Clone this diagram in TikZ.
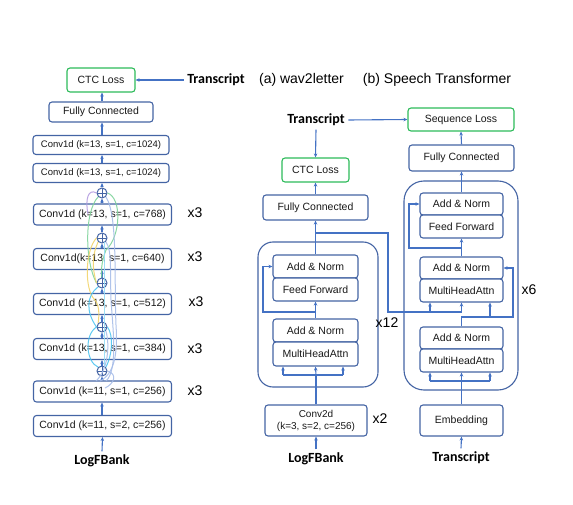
\documentclass[tikz,border=0pt]{standalone}
\usepackage{fontspec}
\setmainfont{Liberation Sans}
\newfontfamily\lblfont{Carlito}
\usetikzlibrary{arrows.meta}
\definecolor{boxblue}{HTML}{4464A4}
\definecolor{arrblue}{HTML}{4472C4}
\definecolor{lossgreen}{HTML}{2DBB5A}
\definecolor{rpurple}{HTML}{B49CE0}
\definecolor{rgreen}{HTML}{7ED39A}
\definecolor{ryellow}{HTML}{F2D46A}
\definecolor{rcyan}{HTML}{4CC4F0}
\definecolor{rlblue}{HTML}{A6BCE8}
\begin{document}
\begin{tikzpicture}[x=1pt,y=-1pt,
  blk/.style={draw=boxblue,line width=1.1pt,rounded corners=3pt,inner sep=0pt,fill=white,font=\fontsize{10.5}{12}\selectfont,text=black!90},
  lossbox/.style={blk,draw=lossgreen},
  bigblk/.style={draw=boxblue,line width=1.1pt,inner sep=0pt},
  arr/.style={draw=arrblue,line width=1.1pt,-{Stealth[length=4pt,width=3.5pt]}},
  ln/.style={draw=arrblue,line width=1.1pt},
  boldlbl/.style={font=\lblfont\bfseries\fontsize{14}{16}\selectfont},
  rep/.style={font=\fontsize{14}{16}\selectfont},
  res/.style={line width=1pt,opacity=0.9},
  plusnode/.style={circle,draw=boxblue,line width=1pt,minimum size=10pt,inner sep=0pt,fill=white,
    path picture={\draw[boxblue,line width=0.9pt] (path picture bounding box.north) -- (path picture bounding box.south) (path picture bounding box.west) -- (path picture bounding box.east);}}
]
\useasboundingbox (0,0) rectangle (573,505);

% ---------------- (a) wav2letter ----------------
\node[lossbox,minimum width=68pt,minimum height=24pt] (ctcL) at (101,80) {CTC Loss};
\node[boldlbl] (trL) at (216,80) {Transcript};
\node[blk,minimum width=104pt,minimum height=20pt] (fcL) at (101,112) {Fully Connected};
\node[blk,minimum width=136pt,minimum height=19pt,font=\fontsize{9.5}{11}\selectfont] (c1) at (101,145) {Conv1d (k=13, s=1, c=1024)};
\node[blk,minimum width=136pt,minimum height=19pt,font=\fontsize{9.5}{11}\selectfont] (c2) at (101,173) {Conv1d (k=13, s=1, c=1024)};
\node[plusnode] (p1) at (102,193) {};
\node[blk,minimum width=138pt,minimum height=21pt] (r768) at (102.5,214.5) {Conv1d (k=13, s=1, c=768)};
\node[plusnode] (p2) at (102,238) {};
\node[blk,minimum width=138pt,minimum height=21pt] (r640) at (102.5,259) {Conv1d(k=13, s=1, c=640)};
\node[plusnode] (p3) at (102,283) {};
\node[blk,minimum width=138pt,minimum height=21pt] (r512) at (102.5,304) {Conv1d (k=13, s=1, c=512)};
\node[plusnode] (p4) at (102,327) {};
\node[blk,minimum width=138pt,minimum height=21pt] (r384) at (102.5,349) {Conv1d (k=13, s=1, c=384)};
\node[plusnode] (p5) at (102,371) {};
\node[blk,minimum width=138pt,minimum height=21pt] (r256) at (102.5,391.5) {Conv1d (k=11, s=1, c=256)};
\node[blk,minimum width=138pt,minimum height=21pt] (b256) at (102.5,426) {Conv1d (k=11, s=2, c=256)};
\node[boldlbl] (lfbL) at (102,461) {LogFBank};

\node[rep] (x3a) at (195,213) {x3};
\node[rep] (x3b) at (195,257) {x3};
\node[rep] (x3c) at (196,302) {x3};
\node[rep] (x3d) at (195,349) {x3};
\node[rep] (x3e) at (195,391) {x3};

\draw[arr] (lfbL.north) -- (b256.south);
\draw[arr] (b256.north -| p5) -- (r256.south -| p5);
\draw[arr] (r256.north -| p5) -- (p5.south);
\draw[arr] (p5.north) -- (r384.south -| p5);
\draw[arr] (r384.north -| p4) -- (p4.south);
\draw[arr] (p4.north) -- (r512.south -| p4);
\draw[arr] (r512.north -| p3) -- (p3.south);
\draw[arr] (p3.north) -- (r640.south -| p3);
\draw[arr] (r640.north -| p2) -- (p2.south);
\draw[arr] (p2.north) -- (r768.south -| p2);
\draw[arr] (r768.north -| p1) -- (p1.south);
\draw[arr] (p1.north) -- (c2.south -| p1);
\draw[arr] (c2.north -| p1) -- (c1.south -| p1);
\draw[arr] (c1.north -| p1) -- (fcL.south -| p1);
\draw[arr] (fcL.north -| p1) -- (ctcL.south -| p1);
\draw[arr] (trL.west) -- (ctcL.east);

% residual connections (decorative)
\draw[res,rpurple] (p1.west) .. controls (88,188) and (85,200) .. (88,214);
\draw[res,rgreen] (p1.south west) .. controls (84,212) and (85,262) .. (p3.west);
\draw[res,rgreen] (p1.east) .. controls (122,198) and (121,236) .. (106,250) .. controls (101,262) and (101,274) .. (p3.north);
\draw[res,ryellow] (p2.west) .. controls (85,250) and (84,290) .. (95,300) .. controls (100,306) and (99,318) .. (p4.north west);
\draw[res,ryellow] (p2.south west) .. controls (92,255) and (92,268) .. (p3.west);
\draw[res,rcyan] (p3.south west) .. controls (86,296) and (86,312) .. (p4.west);
\draw[res,rcyan] (p4.west) .. controls (84,335) and (86,362) .. (p5.north west);
\draw[res,rcyan] (p4.east) .. controls (114,336) and (112,356) .. (p5.north east);
\draw[res,rcyan!60] (104,368) -- (104,242);
\draw[res,rlblue] (100,381) .. controls (114,374) and (118,355) .. (116,325) .. controls (114,280) and (118,215) .. (p1.south east);
\draw[res,rlblue] (106,381) .. controls (118,370) and (113,330) .. (111,300) .. controls (110,270) and (112,250) .. (p2.south east);
\draw[res,rlblue] (p5.east) .. controls (118,374) and (114,384) .. (105,388);
\draw[res,rlblue] (96,381) .. controls (108,370) and (110,345) .. (p4.south east);

% ---------------- captions ----------------
\node[rep] (capA) at (301.5,80) {(a) wav2letter};
\node[rep] (capB) at (437,80) {(b) Speech Transformer};

% ---------------- encoder (middle) ----------------
\node[boldlbl] (trM) at (316,120) {Transcript};
\node[lossbox,minimum width=67pt,minimum height=24pt] (ctcM) at (315.5,170) {CTC Loss};
\node[blk,minimum width=105pt,minimum height=25pt] (fcM) at (315.5,207.5) {Fully Connected};
\node[bigblk,rounded corners=15pt,minimum width=120pt,minimum height=145pt] (enc) at (318,314.5) {};
\node[blk,minimum width=85pt,minimum height=23pt] (an1) at (315.5,266.5) {Add \& Norm};
\node[blk,minimum width=85pt,minimum height=23pt] (ff1) at (315.5,289.5) {Feed Forward};
\node[blk,minimum width=85pt,minimum height=23pt] (an2) at (315.5,330.5) {Add \& Norm};
\node[blk,minimum width=85pt,minimum height=24pt] (mha1) at (315.5,354) {MultiHeadAttn};
\node[rep] (x12) at (387,323) {x12};
\node[blk,minimum width=102pt,minimum height=31pt,align=center,font=\fontsize{10}{12}\selectfont] (conv2d) at (316,420.5) {Conv2d\\(k=3, s=2, c=256)};
\node[rep] (x2) at (380,419) {x2};
\node[boldlbl] (lfbM) at (316,459) {LogFBank};

\coordinate (s1) at (316,375);
\coordinate (s1l) at (283,375);
\coordinate (s1r) at (343,375);
\coordinate (b1) at (316,312);
\coordinate (eo) at (316,233);

\draw[arr] (lfbM.north) -- (conv2d.south);
\draw[ln] (conv2d.north) -- (s1);
\draw[ln] (s1l) -- (s1r);
\draw[arr] (s1l) -- (s1l |- mha1.south);
\draw[arr] (s1) -- (mha1.south);
\draw[arr] (s1r) -- (s1r |- mha1.south);
\draw[arr] (an2.north) -- (ff1.south);
\draw[arr] (b1) -- (263,312) |- (an1.west);
\draw[arr] (an1.north) -- (fcM.south);
\draw[arr] (fcM.north) -- (ctcM.south);
\draw[arr] (trM.south) -- (ctcM.north);

% ---------------- decoder (right) ----------------
\node[lossbox,minimum width=106pt,minimum height=23pt] (seq) at (461,119.5) {Sequence Loss};
\node[blk,minimum width=105pt,minimum height=26pt] (fcR) at (461.5,158) {Fully Connected};
\node[bigblk,rounded corners=20pt,minimum width=114pt,minimum height=209pt] (dec) at (461,285.5) {};
\node[blk,minimum width=83pt,minimum height=22pt] (an3) at (461.5,204) {Add \& Norm};
\node[blk,minimum width=83pt,minimum height=23pt] (ff2) at (461.5,226.5) {Feed Forward};
\node[blk,minimum width=83pt,minimum height=22pt] (an4) at (461.5,268) {Add \& Norm};
\node[blk,minimum width=83pt,minimum height=23pt] (mha2) at (461.5,290.5) {MultiHeadAttn};
\node[blk,minimum width=83pt,minimum height=22pt] (an5) at (461.5,338) {Add \& Norm};
\node[blk,minimum width=83pt,minimum height=23pt] (mha3) at (461.5,360.5) {MultiHeadAttn};
\node[rep] (x6) at (529,290) {x6};
\node[blk,minimum width=83pt,minimum height=31pt] (emb) at (461.5,420.5) {Embedding};
\node[boldlbl] (trR) at (461,458) {Transcript};

\draw[arr] (trM.east) -- (seq.west);

\coordinate (s2) at (461.5,381);
\coordinate (s2l) at (430,381);
\coordinate (s2r) at (490,381);
\coordinate (b2) at (461.5,317);
\coordinate (b2m) at (490,317);
\coordinate (b3) at (461.5,248);
\coordinate (e1) at (430,312);
\coordinate (e2) at (461.5,312);

\draw[arr] (trR.north) -- (emb.south);
\draw[ln] (emb.north) -- (s2);
\draw[ln] (s2l) -- (s2r);
\draw[arr] (s2l) -- (s2l |- mha3.south);
\draw[arr] (s2) -- (mha3.south);
\draw[arr] (s2r) -- (s2r |- mha3.south);
\draw[ln] (an5.north) -- (b2) -- (b2m);
\draw[arr] (b2m) -- (b2m |- mha2.south);
\draw[arr] (b2m) -- (513,317) |- (an4.east);
\draw[ln] (eo) -- (388,233) -- (388,312) -- (e2);
\draw[arr] (e1) -- (e1 |- mha2.south);
\draw[arr] (e2) -- (mha2.south);
\draw[arr] (an4.north) -- (ff2.south);
\draw[arr] (b3) -- (409,248) |- (an3.west);
\draw[arr] (an3.north) -- (fcR.south);
\draw[arr] (fcR.north) -- (seq.south);
\end{tikzpicture}
\end{document}
